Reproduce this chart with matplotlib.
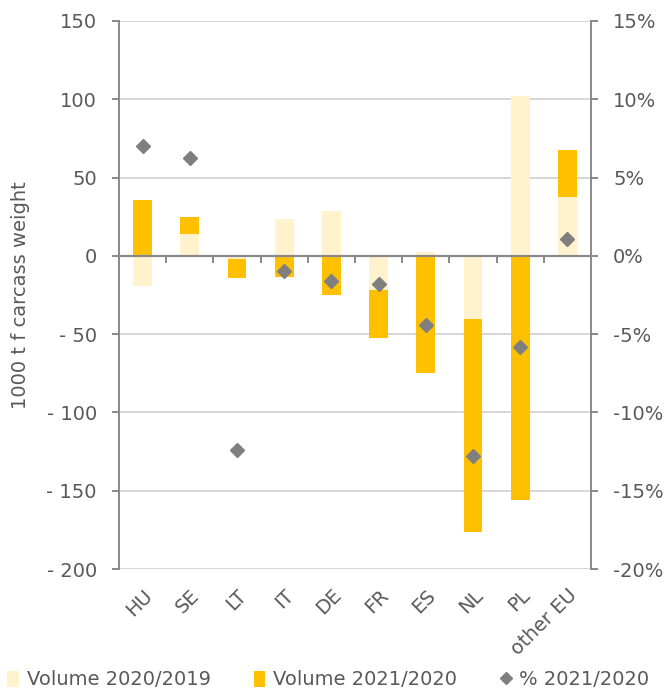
import matplotlib
matplotlib.use('Agg')
import matplotlib.pyplot as plt
from matplotlib.ticker import FuncFormatter, FixedLocator
from matplotlib.lines import Line2D
from matplotlib.patches import Patch
import numpy as np

countries = ["HU", "SE", "LT", "IT", "DE", "FR", "ES", "NL", "PL", "other EU"]
vol_2020_2019 = [-19.2, 13.9, -2.0, 23.4, 28.7, -22.1, 2.4, -40.2, 102.2, 37.7]
vol_2021_2020 = [35.8, 24.9, -14.0, -13.2, -25.1, -52.2, -74.9, -176.5, -155.8, 67.7]
pct_2021_2020 = [7.0, 6.24, -12.39, -0.96, -1.58, -1.79, -4.41, -12.79, -5.79, 1.09]

light = "#FFF2CC"
dark = "#FFC000"
grey_mark = "#7F7F7F"
axis_grey = "#898989"
text_grey = "#595959"

plt.rcParams['font.family'] = 'DejaVu Sans'
plt.rcParams['axes.unicode_minus'] = False

fig = plt.figure(figsize=(6.7, 6.93), dpi=100)
ax = fig.add_axes([0.1776, 0.1789, 0.7045, 0.7908])

x = np.arange(len(countries))
w = 0.4
ax.bar(x, vol_2021_2020, width=w, color=dark, zorder=2)
ax.bar(x, vol_2020_2019, width=w, color=light, zorder=3)

ax.set_xlim(-0.5, len(countries) - 0.5)
ax.set_ylim(-200, 150)
ax.set_yticks(np.arange(-200, 151, 50))
ax.yaxis.set_major_formatter(FuncFormatter(lambda v, p: f"- {abs(v):.0f}" if v < 0 else f"{v:.0f}"))
ax.grid(axis='y', color="#D0D0D0", linewidth=1.2, zorder=0)
ax.set_axisbelow(True)
ax.set_ylabel("1000 t f carcass weight", fontsize=14, color=text_grey, labelpad=12)

for s in ['top', 'right']:
    ax.spines[s].set_visible(False)
ax.spines['left'].set_color(axis_grey)
ax.spines['left'].set_linewidth(1.4)
ax.spines['bottom'].set_position(('data', 0))
ax.spines['bottom'].set_color(axis_grey)
ax.spines['bottom'].set_linewidth(1.6)
ax.spines['bottom'].set_zorder(4)
ax.tick_params(axis='y', colors=axis_grey, labelcolor=text_grey, labelsize=14,
               length=5, width=1.4, pad=11)
# tick marks at category boundaries on the zero line
ax.xaxis.set_major_locator(FixedLocator(x[:-1] + 0.5))
ax.tick_params(axis='x', which='major', direction='out', length=5, width=1.4,
               colors=axis_grey, labelbottom=False)

# category labels at the bottom of the plot
sec = ax.secondary_xaxis(0.0)
sec.set_xticks(x)
sec.set_xticklabels(countries, rotation=45, ha='right', rotation_mode='anchor')
sec.tick_params(length=0, labelsize=14, labelcolor=text_grey, pad=12)
sec.spines['bottom'].set_visible(False)

ax2 = ax.twinx()
ax2.plot(x, pct_2021_2020, linestyle='none', marker='D', markersize=7.5,
         color=grey_mark, zorder=5)
ax2.set_ylim(-20, 15)
ax2.set_yticks(np.arange(-20, 16, 5))
ax2.yaxis.set_major_formatter(FuncFormatter(lambda v, p: f"{v:.0f}%"))
for s in ['top', 'left', 'bottom']:
    ax2.spines[s].set_visible(False)
ax2.spines['right'].set_color(axis_grey)
ax2.spines['right'].set_linewidth(1.4)
ax2.tick_params(axis='y', colors=axis_grey, labelcolor=text_grey, labelsize=14,
                length=5, width=1.4, pad=11)

handles = [
    Patch(facecolor=light, edgecolor='none'),
    Patch(facecolor=dark, edgecolor='none'),
    Line2D([], [], linestyle='none', marker='D', markersize=6, color=grey_mark),
]
labels = ["Volume 2020/2019", "Volume 2021/2020", "% 2021/2020"]
leg = fig.legend(handles, labels, loc='lower center', bbox_to_anchor=(0.49, -0.02),
                 ncol=3, frameon=False, fontsize=14, handlelength=0.6, handleheight=0.9,
                 handletextpad=0.4, columnspacing=2.2)
for t in leg.get_texts():
    t.set_color(text_grey)

fig.savefig("out.png", dpi=100)
